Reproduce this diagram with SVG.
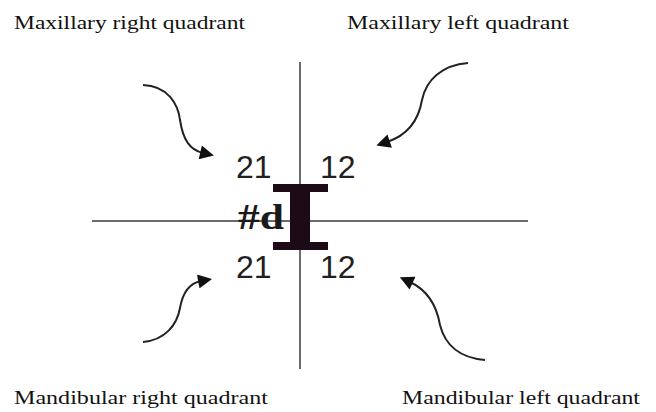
<svg xmlns="http://www.w3.org/2000/svg" width="656" height="412" viewBox="0 0 656 412">
<style>
.lbl{font-family:"Liberation Serif","Times New Roman",serif;font-size:18px;fill:#111}
.num{font-family:"Liberation Sans",Arial,sans-serif;font-size:32px;fill:#231f20}
.axis{stroke:#6b6b6b;stroke-width:2;fill:none}
.arr{stroke:#222;stroke-width:2;fill:none;marker-end:url(#head)}
</style>
<defs>
<marker id="head" viewBox="0 0 10 10" refX="2" refY="5" markerWidth="7.5" markerHeight="7" markerUnits="strokeWidth" orient="auto">
<path d="M0,0 L10,5 L0,10 z" fill="#111"/>
</marker>
</defs>
<rect width="656" height="412" fill="#fff"/>
<g id="axes">
<line class="axis" x1="300" y1="62" x2="300" y2="369"/>
<line class="axis" x1="92" y1="221" x2="528" y2="221"/>
</g>
<g id="connectors">
<path class="arr" d="M143,85 C168,86 178,104 180,120 C183,140 190,150 203,153"/>
<path class="arr" d="M468,63 C442,65 426,80 422,100 C418,124 405,136 387,142"/>
<path class="arr" d="M143,342 C165,340 177,325 180,308 C183,291 190,283 201,281"/>
<path class="arr" d="M485,360 C460,358 445,345 440,325 C436,302 425,289 410,282"/>
</g>
<g id="maxillary-right"><text class="lbl" x="14" y="29" textLength="231" lengthAdjust="spacingAndGlyphs">Maxillary right quadrant</text></g>
<g id="maxillary-left"><text class="lbl" x="347" y="29" textLength="222" lengthAdjust="spacingAndGlyphs">Maxillary left quadrant</text></g>
<g id="mandibular-right"><text class="lbl" x="14" y="404" textLength="254" lengthAdjust="spacingAndGlyphs">Mandibular right quadrant</text></g>
<g id="mandibular-left"><text class="lbl" x="402" y="404" textLength="238" lengthAdjust="spacingAndGlyphs">Mandibular left quadrant</text></g>
<g id="center">
<text class="num" x="236" y="178">21</text>
<text class="num" x="320" y="178">12</text>
<text class="num" x="236" y="278">21</text>
<text class="num" x="320" y="278">12</text>
<path d="M273,184 H328 V192 H310 V242 H328 V250 H273 V242 H290 V192 H273 Z" fill="#1c0b16"/>
<text x="238" y="229" font-family="Liberation Serif,serif" font-weight="bold" font-size="36" fill="#1a1a1a" textLength="46" lengthAdjust="spacingAndGlyphs">#d</text>
</g>
</svg>
